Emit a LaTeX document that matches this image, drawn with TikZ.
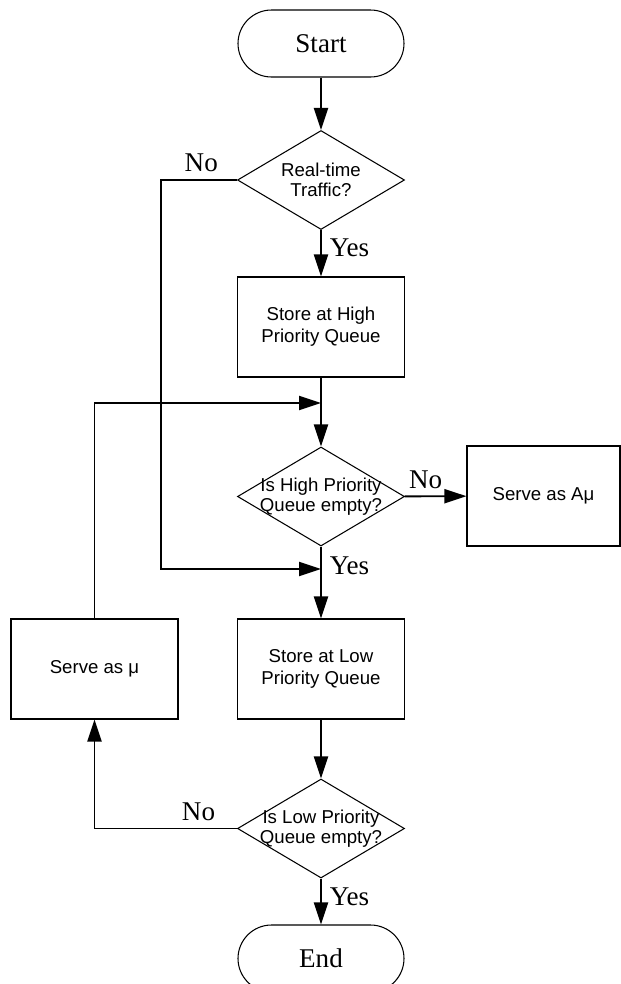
\documentclass[tikz,border=0pt]{standalone}
\usepackage{fontspec}
\setmainfont{Liberation Serif}
\newfontfamily\arialfont{Liberation Sans}
\usetikzlibrary{shapes.geometric,arrows.meta}

\begin{document}
\begin{tikzpicture}[x=1cm,y=1cm,
  every node/.style={font=\fontsize{15.4}{18}\selectfont},
  term/.style={draw,line width=0.6pt,rounded corners=0.67cm,minimum width=3.32cm,minimum height=1.34cm,inner sep=0pt},
  stepbox/.style={draw,line width=0.6pt,minimum width=3.34cm,minimum height=2cm,inner sep=0pt,align=center,font=\arialfont\fontsize{10.6}{12.5}\selectfont},
  decision/.style={draw,diamond,line width=0.6pt,minimum width=3.34cm,minimum height=1.98cm,inner sep=0pt},
  qtext/.style={align=center,font=\arialfont\fontsize{10.6}{11.2}\selectfont},
  flow/.style={line width=1.1pt,-{Triangle[length=0.44cm,width=0.28cm]}},
  yeslbl/.style={anchor=west,inner sep=4.5pt},
  nolbl/.style={above,inner sep=4pt}]
\useasboundingbox (0,0) rectangle (12.42,-19.68);

\node[term] (start) at (6.42,-0.87) {Start};
\node[decision,label={[qtext]center:Real-time\\Traffic?}] (traffic) at (6.42,-3.6) {};
\node[stepbox] (high) at (6.42,-6.54) {Store at High\\Priority Queue};
\node[decision,label={[qtext]center:Is High Priority\\Queue empty?}] (highempty) at (6.42,-9.93) {};
\node[stepbox,minimum width=3.06cm] (serveA) at (10.87,-9.92) {Serve as Aμ};
\node[stepbox] (low) at (6.42,-13.38) {Store at Low\\Priority Queue};
\node[stepbox] (serve) at (1.89,-13.38) {Serve as μ};
\node[decision,label={[qtext]center:Is Low Priority\\Queue empty?}] (lowempty) at (6.42,-16.57) {};
\node[term] (end) at (6.42,-19.17) {End};

\coordinate (nobend) at (3.22,-3.6);
\coordinate (loopin) at (6.42,-8.06);
\coordinate (yesin) at (6.42,-11.38);

\draw[flow] (start) -- (traffic);
\draw[flow] (traffic) -- node[yeslbl,pos=0.375] {Yes} (high);
\draw[flow] (traffic.west) -- node[nolbl,pos=0.47] {No} (nobend) |- (yesin);
\draw[flow] (high) -- (highempty);
\draw[flow] (highempty) -- node[nolbl,pos=0.34] {No} (serveA);
\draw[flow] (highempty) -- node[yeslbl,pos=0.27] {Yes} (low);
\draw[flow] (low) -- (lowempty);
\draw[flow] (lowempty) -- node[yeslbl,pos=0.4] {Yes} (end);
\draw[flow] (lowempty.west) -- node[nolbl,pos=0.27] {No} (lowempty.west -| serve) -- (serve);
\draw[flow] (serve) |- (loopin);
\end{tikzpicture}
\end{document}
